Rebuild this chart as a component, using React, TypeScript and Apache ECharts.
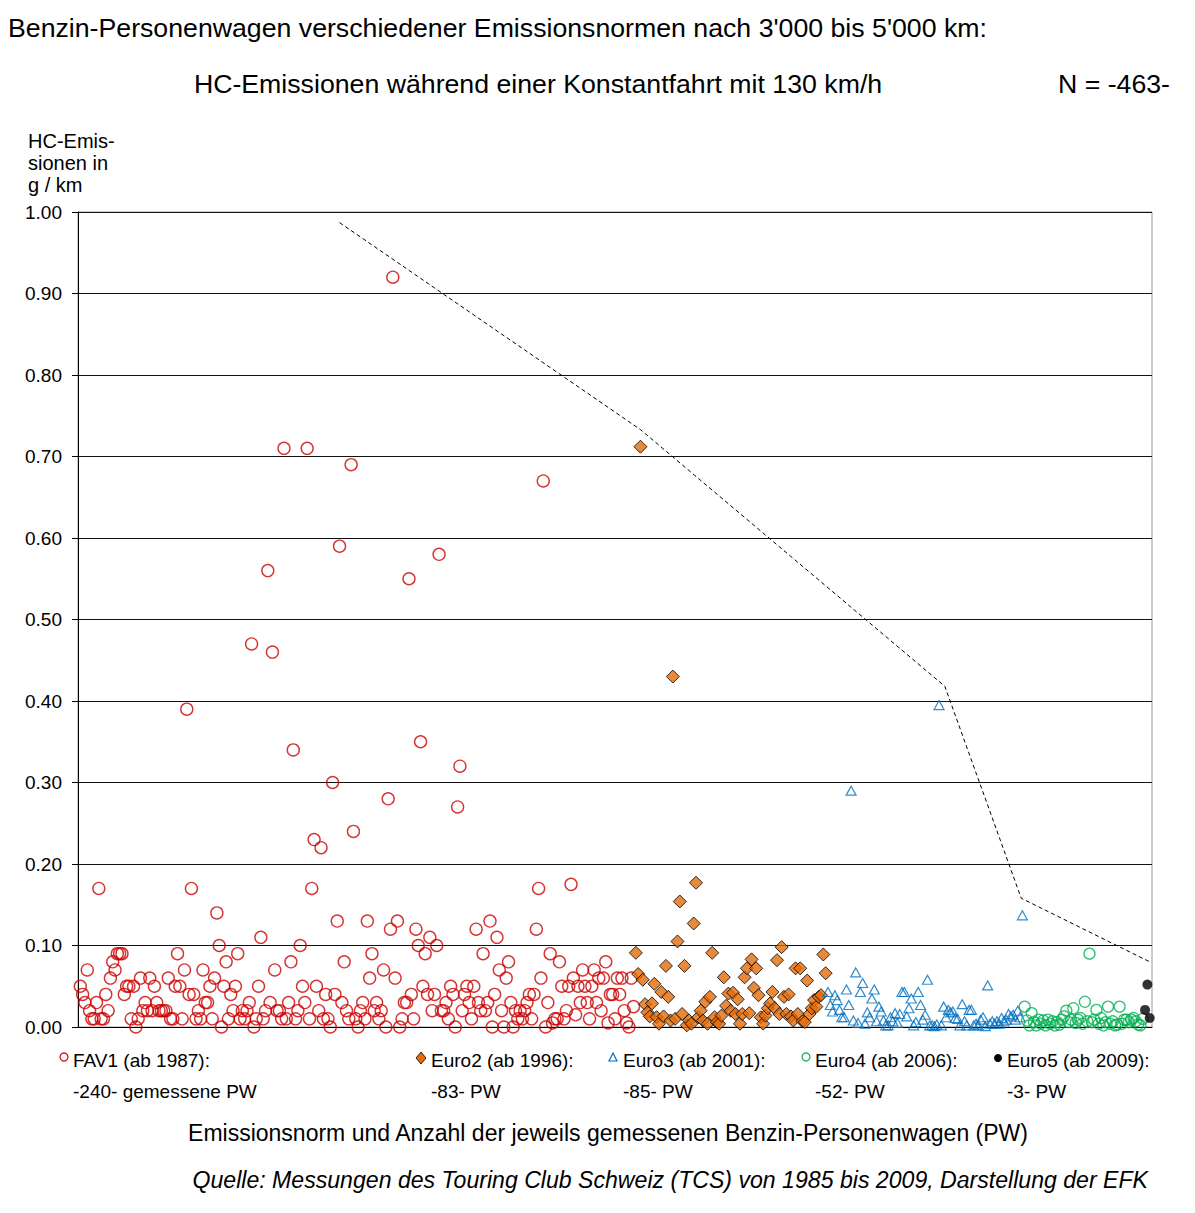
import React, { useEffect, useRef } from "react";
import * as echarts from "echarts";

const TITLE = "Benzin-Personenwagen verschiedener Emissionsnormen nach 3'000 bis 5'000 km:";
const SUBTITLE = "HC-Emissionen während einer Konstantfahrt mit 130 km/h";
const N_TEXT = "N = -463-";
const Y_TITLE = ["HC-Emis-", "sionen in", "g / km"];
const X_TITLE = "Emissionsnorm und Anzahl der jeweils gemessenen Benzin-Personenwagen (PW)";
const SOURCE = "Quelle: Messungen des Touring Club Schweiz (TCS) von 1985 bis 2009, Darstellung der EFK";

const LEGEND_NAMES = ["FAV1 (ab 1987):", "Euro2 (ab 1996):", "Euro3 (ab 2001):", "Euro4 (ab 2006):", "Euro5 (ab 2009):"];
const LEGEND_COUNTS = ["-240- gemessene PW", "-83- PW", "-85- PW", "-52- PW", "-3- PW"];

const FAV1 = [
  0.05, 0.04, 0.03, 0.07, 0.02, 0.01, 0.01, 0.03, 0.17, 0.01,
  0.01, 0.04, 0.02, 0.06, 0.08, 0.07, 0.09, 0.09, 0.09, 0.04,
  0.05, 0.05, 0.01, 0.05, 0.00, 0.01, 0.06, 0.02, 0.03, 0.02,
  0.06, 0.02, 0.05, 0.03, 0.02, 0.02, 0.02, 0.02, 0.06, 0.01,
  0.01, 0.05, 0.09, 0.05, 0.01, 0.07, 0.39, 0.04, 0.17, 0.04,
  0.01, 0.02, 0.01, 0.07, 0.03, 0.03, 0.05, 0.01, 0.06, 0.14,
  0.10, 0.00, 0.05, 0.08, 0.01, 0.04, 0.02, 0.05, 0.09, 0.01,
  0.02, 0.01, 0.02, 0.03, 0.47, 0.00, 0.01, 0.05, 0.11, 0.01,
  0.02, 0.56, 0.03, 0.46, 0.07, 0.02, 0.02, 0.01, 0.71, 0.01,
  0.03, 0.08, 0.34, 0.01, 0.02, 0.10, 0.05, 0.03, 0.71, 0.01,
  0.17, 0.23, 0.05, 0.02, 0.22, 0.01, 0.04, 0.01, 0.00, 0.30,
  0.04, 0.13, 0.59, 0.03, 0.08, 0.02, 0.01, 0.69, 0.24, 0.01,
  0.00, 0.02, 0.03, 0.01, 0.13, 0.06, 0.09, 0.02, 0.03, 0.01,
  0.02, 0.07, 0.00, 0.28, 0.12, 0.92, 0.06, 0.13, 0.00, 0.01,
  0.03, 0.03, 0.55, 0.04, 0.01, 0.12, 0.10, 0.35, 0.05, 0.09,
  0.04, 0.11, 0.02, 0.04, 0.10, 0.58, 0.02, 0.02, 0.03, 0.01,
  0.05, 0.04, 0.00, 0.27, 0.32, 0.02, 0.04, 0.05, 0.03, 0.01,
  0.05, 0.12, 0.03, 0.02, 0.09, 0.02, 0.03, 0.13, 0.00, 0.04,
  0.11, 0.07, 0.02, 0.00, 0.06, 0.08, 0.03, 0.00, 0.02, 0.01,
  0.02, 0.01, 0.02, 0.03, 0.04, 0.01, 0.04, 0.12, 0.17, 0.06,
  0.67, 0.00, 0.03, 0.09, 0.005, 0.01, 0.01, 0.08, 0.05, 0.01,
  0.02, 0.05, 0.175, 0.06, 0.015, 0.05, 0.03, 0.07, 0.05, 0.03,
  0.01, 0.05, 0.07, 0.03, 0.06, 0.02, 0.06, 0.08, 0.005, 0.04,
  0.04, 0.01, 0.06, 0.04, 0.06, 0.02, 0.005, 0.00, 0.06, 0.025,
];

const EURO2 = [
  0.091, 0.065, 0.712, 0.058, 0.028, 0.018, 0.013, 0.029, 0.053, 0.012,
  0.004, 0.043, 0.013, 0.075, 0.037, 0.008, 0.43, 0.01, 0.105, 0.154,
  0.016, 0.075, 0.002, 0.008, 0.004, 0.127, 0.177, 0.012, 0.02, 0.008,
  0.031, 0.004, 0.037, 0.091, 0.012, 0.006, 0.004, 0.014, 0.061, 0.026,
  0.041, 0.02, 0.042, 0.016, 0.034, 0.004, 0.016, 0.061, 0.072, 0.017,
  0.083, 0.048, 0.072, 0.039, 0.012, 0.004, 0.014, 0.023, 0.029, 0.043,
  0.023, 0.082, 0.016, 0.098, 0.037, 0.016, 0.04, 0.013, 0.008, 0.072,
  0.016, 0.072, 0.007, 0.006, 0.057, 0.016, 0.023, 0.033, 0.025, 0.037,
  0.039, 0.089, 0.066,
];

const EURO3 = [
  0.043, 0.027, 0.019, 0.039, 0.033, 0.021, 0.012, 0.012, 0.046, 0.027,
  0.29, 0.008, 0.067, 0.005, 0.043, 0.054, 0.004, 0.018, 0.012, 0.035,
  0.046, 0.007, 0.025, 0.019, 0.008, 0.002, 0.002, 0.012, 0.007, 0.017,
  0.005, 0.016, 0.043, 0.043, 0.013, 0.023, 0.035, 0.002, 0.006, 0.043,
  0.027, 0.009, 0.015, 0.058, 0.002, 0.002, 0.001, 0.003, 0.395, 0.002,
  0.025, 0.012, 0.021, 0.018, 0.019, 0.011, 0.01, 0.002, 0.028, 0.007,
  0.002, 0.021, 0.021, 0.002, 0.004, 0.002, 0.009, 0.012, 0.001, 0.051,
  0.004, 0.007, 0.004, 0.007, 0.004, 0.011, 0.007, 0.009, 0.016, 0.013,
  0.015, 0.009, 0.02, 0.012, 0.137,
];

const EURO4 = [
  0.025, 0.008, 0.002, 0.017, 0.006, 0.002, 0.009, 0.004, 0.008, 0.002,
  0.009, 0.004, 0.007, 0.002, 0.006, 0.003, 0.009, 0.013, 0.02, 0.006,
  0.009, 0.023, 0.005, 0.009, 0.011, 0.004, 0.031, 0.007, 0.09, 0.006,
  0.009, 0.021, 0.004, 0.011, 0.002, 0.006, 0.025, 0.004, 0.007, 0.002,
  0.003, 0.025, 0.004, 0.009, 0.009, 0.006, 0.009, 0.011, 0.007, 0.003,
  0.002, 0.01,
];

const EURO5 = [0.021, 0.052, 0.011];

const LIMIT_X = [113, 243, 374.5, 407.5, 463];
const LIMIT_Y = [0.987, 0.733, 0.418, 0.158, 0.08];

const Y_MIN = 0;
const Y_MAX = 1;
const Y_STEP = 0.1;
const X_MIN = 0;
const X_MAX = 464;

const FONT = "Liberation Sans";

function toPoints(values: number[], offset: number) {
  return values.map((v, i) => [offset + i + 1, v]);
}

export default function App() {
  const ref = useRef<HTMLDivElement>(null);

  useEffect(() => {
    if (!ref.current) return;
    const chart = echarts.init(ref.current, null, { renderer: "svg" });

    const o2 = FAV1.length;
    const o3 = o2 + EURO2.length;
    const o4 = o3 + EURO3.length;
    const o5 = o4 + EURO4.length;

    const txt = (text: string, x: number, y: number, size: number, align = "left", extra: any = {}) => ({
      type: "text",
      x,
      y,
      silent: true,
      style: {
        text,
        fill: "#000",
        fontSize: size,
        fontFamily: FONT,
        align,
        verticalAlign: "middle",
        ...extra,
      },
    });

    const legendX = [73, 431, 623, 815, 1007];
    const legendY1 = 1060;
    const legendY2 = 1091;

    const graphic: any[] = [
      txt(TITLE, 8, 28, 26.7),
      txt(SUBTITLE, 538, 84, 26.7, "center"),
      txt(N_TEXT, 1170, 84, 26.7, "right"),
      ...Y_TITLE.map((t, i) => txt(t, 28, 141 + i * 22, 20)),
      txt(X_TITLE, 608, 1133, 23, "center"),
      txt(SOURCE, 1148, 1180, 23.1, "right", { fontStyle: "italic" }),
      ...LEGEND_NAMES.map((t, i) => txt(t, legendX[i], legendY1, 19)),
      ...LEGEND_COUNTS.map((t, i) => txt(t, legendX[i], legendY2, 19)),
      {
        type: "circle",
        silent: true,
        shape: { cx: 64, cy: 1057, r: 4 },
        style: { fill: "none", stroke: "#cc0000", lineWidth: 1.2 },
      },
      {
        type: "polygon",
        silent: true,
        shape: { points: [[421, 1052], [426, 1058], [421, 1064], [416, 1058]] },
        style: { fill: "#e36c09", stroke: "#000", lineWidth: 0.8 },
      },
      {
        type: "polygon",
        silent: true,
        shape: { points: [[613, 1053], [617, 1061], [609, 1061]] },
        style: { fill: "none", stroke: "#0070c0", lineWidth: 1.2 },
      },
      {
        type: "circle",
        silent: true,
        shape: { cx: 806, cy: 1057, r: 4 },
        style: { fill: "none", stroke: "#00b050", lineWidth: 1.2 },
      },
      {
        type: "circle",
        silent: true,
        shape: { cx: 998, cy: 1058, r: 4 },
        style: { fill: "#000" },
      },
    ];

    chart.setOption({
      animation: false,
      backgroundColor: "#fff",
      grid: {
        left: 78,
        right: 43,
        top: 212,
        bottom: 186,
        show: true,
        borderColor: "#9a9a9a",
        borderWidth: 1,
      },
      xAxis: {
        type: "value",
        min: X_MIN,
        max: X_MAX,
        axisLine: { show: true, onZero: false, lineStyle: { color: "#000", width: 1 } },
        axisTick: { show: false },
        axisLabel: { show: false },
        splitLine: { show: false },
      },
      yAxis: {
        type: "value",
        min: Y_MIN,
        max: Y_MAX,
        interval: Y_STEP,
        axisLine: { show: true, lineStyle: { color: "#000", width: 1 } },
        axisTick: { show: true, inside: false, length: 6, lineStyle: { color: "#000" } },
        axisLabel: {
          formatter: (v: number) => v.toFixed(2),
          fontSize: 19,
          fontFamily: FONT,
          color: "#000",
          margin: 16,
        },
        splitLine: { show: true, lineStyle: { color: "#111", width: 1 } },
      },
      graphic,
      series: [
        {
          type: "scatter",
          name: "FAV1",
          data: toPoints(FAV1, 0),
          symbol: "circle",
          symbolSize: 12,
          silent: true,
          itemStyle: { color: "rgba(255,255,255,0)", borderColor: "#cc0000", borderWidth: 1.4 },
        },
        {
          type: "scatter",
          name: "Euro2",
          data: toPoints(EURO2, o2),
          symbol: "diamond",
          symbolSize: 13,
          silent: true,
          itemStyle: { color: "#e36c09", borderColor: "#000", borderWidth: 1 },
        },
        {
          type: "scatter",
          name: "Euro3",
          data: toPoints(EURO3, o3),
          symbol: "triangle",
          symbolSize: [10, 9],
          silent: true,
          itemStyle: { color: "rgba(255,255,255,0)", borderColor: "#0070c0", borderWidth: 1.2 },
        },
        {
          type: "scatter",
          name: "Euro4",
          data: toPoints(EURO4, o4),
          symbol: "circle",
          symbolSize: 11,
          silent: true,
          itemStyle: { color: "rgba(255,255,255,0)", borderColor: "#00b050", borderWidth: 1.3 },
        },
        {
          type: "scatter",
          name: "Euro5",
          data: toPoints(EURO5, o5),
          symbol: "circle",
          symbolSize: 10,
          silent: true,
          itemStyle: { color: "#000" },
        },
        {
          type: "line",
          name: "Limit",
          data: LIMIT_X.map((x, i) => [x, LIMIT_Y[i]]),
          symbol: "none",
          silent: true,
          z: 5,
          lineStyle: { color: "#000", width: 1, type: [4, 3] },
        },
      ],
    });

    return () => chart.dispose();
  }, []);

  return (
    <div
      ref={ref}
      style={{ position: "absolute", left: 0, top: 0, width: 1195, height: 1213 }}
    />
  );
}
